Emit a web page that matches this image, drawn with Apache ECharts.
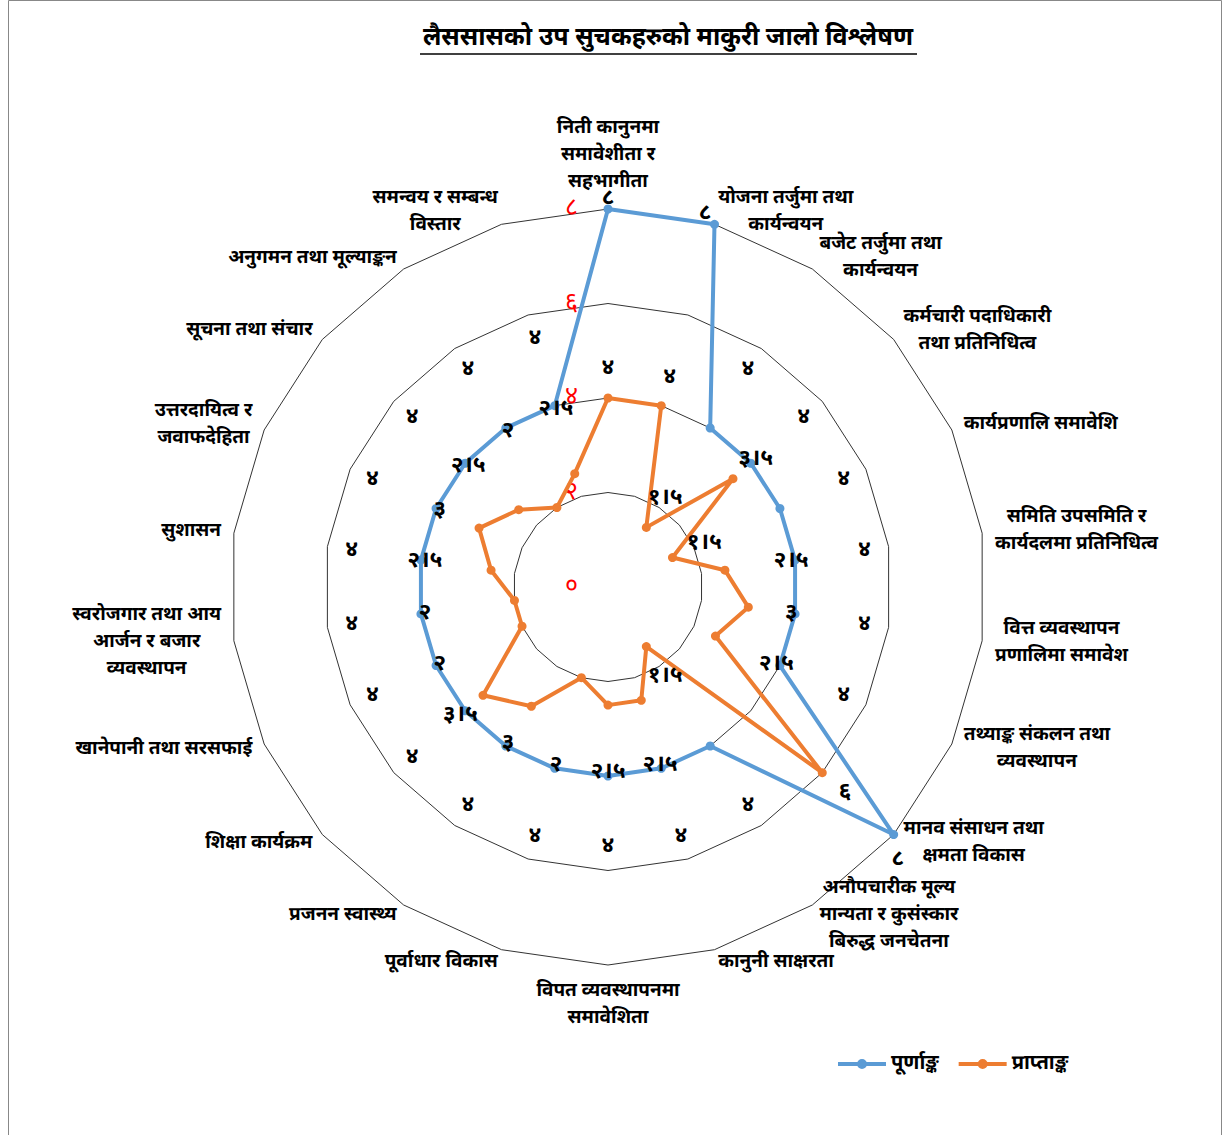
<!DOCTYPE html>
<html>
<head>
<meta charset="utf-8">
<title>लैससासको उप सुचकहरुको माकुरी जालो विश्लेषण</title>
<script src="https://cdn.jsdelivr.net/npm/echarts@6/dist/echarts.min.js"></script>
<style>
  html, body { margin: 0; padding: 0; background: #fff; }
  #chart { width: 1228px; height: 1135px; }
</style>
</head>
<body>
<div id="chart"></div>
<script>
// सूचकहरु, माथिबाट घडीको दिशामा
const indicatorNames = [
  'निती कानुनमा\nसमावेशीता र\nसहभागीता',
  'योजना तर्जुमा तथा\nकार्यन्वयन',
  'बजेट तर्जुमा तथा\nकार्यन्वयन',
  'कर्मचारी पदाधिकारी\nतथा प्रतिनिधित्व',
  'कार्यप्रणालि समावेशि',
  'समिति उपसमिति र\nकार्यदलमा प्रतिनिधित्व',
  'वित्त व्यवस्थापन\nप्रणालिमा समावेश',
  'तथ्याङ्क संकलन तथा\nव्यवस्थापन',
  'मानव संसाधन तथा\nक्षमता विकास',
  'अनौपचारीक मूल्य\nमान्यता र कुसंस्कार\nबिरुद्ध जनचेतना',
  'कानुनी साक्षरता',
  'विपत व्यवस्थापनमा\nसमावेशिता',
  'पूर्वाधार विकास',
  'प्रजनन स्वास्थ्य',
  'शिक्षा कार्यक्रम',
  'खानेपानी तथा सरसफाई',
  'स्वरोजगार तथा आय\nआर्जन र बजार\nव्यवस्थापन',
  'सुशासन',
  'उत्तरदायित्व र\nजवाफदेहिता',
  'सूचना तथा संचार',
  'अनुगमन तथा मूल्याङ्कन',
  'समन्वय र सम्बन्ध\nविस्तार'
];
const fullMarks = [8, 8, 4, 4, 4, 4, 4, 4, 8, 4, 4, 4, 4, 4, 4, 4, 4, 4, 4, 4, 4, 4];
const obtainedMarks = [4, 4, 1.5, 3.5, 1.5, 2.5, 3, 2.5, 6, 1.5, 2.5, 2.5, 2, 3, 3.5, 2, 2, 2.5, 3, 2.5, 2, 2.5];
const radialTicks = [0, 2, 4, 6, 8];
const seriesNames = ['पूर्णाङ्क', 'प्राप्ताङ्क'];

const TITLE = 'लैससासको उप सुचकहरुको माकुरी जालो विश्लेषण';
const FONT = "'Noto Sans Devanagari', 'Lohit Devanagari', Mangal, Kalimati, FreeSans, 'Noto Sans', sans-serif";
const BLUE = '#5b9bd5';
const ORANGE = '#ed7d31';
const CX = 608, CY = 587, RADIUS = 378;

// echarts radar runs anti-clockwise; keep the first axis on top and reverse the rest
const order = [0].concat(indicatorNames.map((_, i) => i).slice(1).reverse());
const clockwise = arr => order.map(i => arr[i]);

const NE_DIGITS = '०१२३४५६७८९';
function toNe(v) {
  return String(v).replace(/[0-9]/g, d => NE_DIGITS[d]).replace('.', '।');
}

function symbolCenter(p) {
  const x = p.rect.x + p.rect.width / 2;
  const y = p.rect.y + p.rect.height / 2;
  return { x, y, dx: x - CX, dy: y - CY, r: Math.hypot(x - CX, y - CY) };
}

// label pushed outward along its axis
function radial(c, dist) {
  const k = dist / c.r;
  return { x: CX + c.dx * k, y: CY + c.dy * k, align: 'center', verticalAlign: 'middle' };
}

const legendIcon = 'path://M0,3H48V7H0Z M19,5A5,5,0,1,1,29,5A5,5,0,1,1,19,5Z';

const labelStyle = {
  show: true,
  color: '#000',
  fontSize: 23,
  fontWeight: 'bold',
  fontFamily: FONT,
  formatter: p => toNe(p.value)
};

const nameStyle = {
  color: '#000',
  fontSize: 19,
  fontWeight: 'bold',
  lineHeight: 27,
  fontFamily: FONT
};

const chart = echarts.init(document.getElementById('chart'), null, { renderer: 'svg' });
chart.setOption({
  animation: false,
  backgroundColor: '#fff',
  textStyle: { fontFamily: FONT },
  graphic: [
    {
      type: 'text',
      x: 668,
      y: 39,
      style: {
        text: TITLE,
        fill: '#000',
        font: 'bold 25px ' + FONT,
        align: 'center',
        verticalAlign: 'middle'
      }
    },
    {
      type: 'line',
      shape: { x1: 420, y1: 54, x2: 917, y2: 54 },
      style: { stroke: '#000', lineWidth: 1.5 }
    },
    {
      type: 'rect',
      shape: { x: 8.5, y: 0.5, width: 1213, height: 1140 },
      style: { fill: 'none', stroke: '#888', lineWidth: 1 },
      silent: true
    }
  ],
  legend: {
    left: 833,
    top: 1049,
    itemWidth: 48,
    itemHeight: 10,
    itemGap: 20,
    data: seriesNames.map(n => ({ name: n, icon: legendIcon })),
    textStyle: { fontSize: 20, fontWeight: 'bold', color: '#000', fontFamily: FONT }
  },
  radar: {
    center: [CX, CY],
    radius: RADIUS,
    startAngle: 90,
    shape: 'polygon',
    splitNumber: radialTicks.length - 1,
    axisNameGap: 13,
    axisName: Object.assign({
      // every wrapped line centred under the one above it
      formatter: name => name.split('\n').map(line => '{c|' + line + '}').join('\n'),
      rich: { c: Object.assign({ align: 'center' }, nameStyle) }
    }, nameStyle),
    axisLine: { show: false },
    axisTick: { show: false },
    axisLabel: {
      show: false,
      color: '#ff0000',
      fontSize: 25,
      margin: 30,
      fontFamily: FONT,
      formatter: v => toNe(v)
    },
    splitArea: { show: false },
    splitLine: { lineStyle: { color: '#333', width: 1 } },
    indicator: clockwise(indicatorNames).map((name, i) => {
      const ind = { name: name, min: radialTicks[0], max: radialTicks[radialTicks.length - 1] };
      if (i === 0) ind.axisLabel = { show: true };
      return ind;
    })
  },
  series: [
    {
      type: 'radar',
      name: seriesNames[0],
      symbol: 'circle',
      symbolSize: 9,
      itemStyle: { color: BLUE },
      lineStyle: { color: BLUE, width: 4 },
      label: labelStyle,
      labelLayout: function (p) {
        const c = symbolCenter(p);
        if (c.r > RADIUS * 0.75) {
          if (c.dy > 0) return { x: c.x + 4, y: c.y + 24, align: 'center', verticalAlign: 'middle' };
          return { x: c.x - c.dx * 0.09, y: c.y - 11, align: 'center', verticalAlign: 'middle' };
        }
        return radial(c, c.r + 70);
      },
      data: [{ name: seriesNames[0], value: clockwise(fullMarks) }]
    },
    {
      type: 'radar',
      name: seriesNames[1],
      symbol: 'circle',
      symbolSize: 9,
      itemStyle: { color: ORANGE },
      lineStyle: { color: ORANGE, width: 4 },
      label: labelStyle,
      labelLayout: function (p) {
        const c = symbolCenter(p);
        const dist = c.r < 80 ? c.r + 35 : Math.max(c.r + 30, 185);
        return radial(c, dist);
      },
      data: [{ name: seriesNames[1], value: clockwise(obtainedMarks) }]
    }
  ]
});
</script>
</body>
</html>
